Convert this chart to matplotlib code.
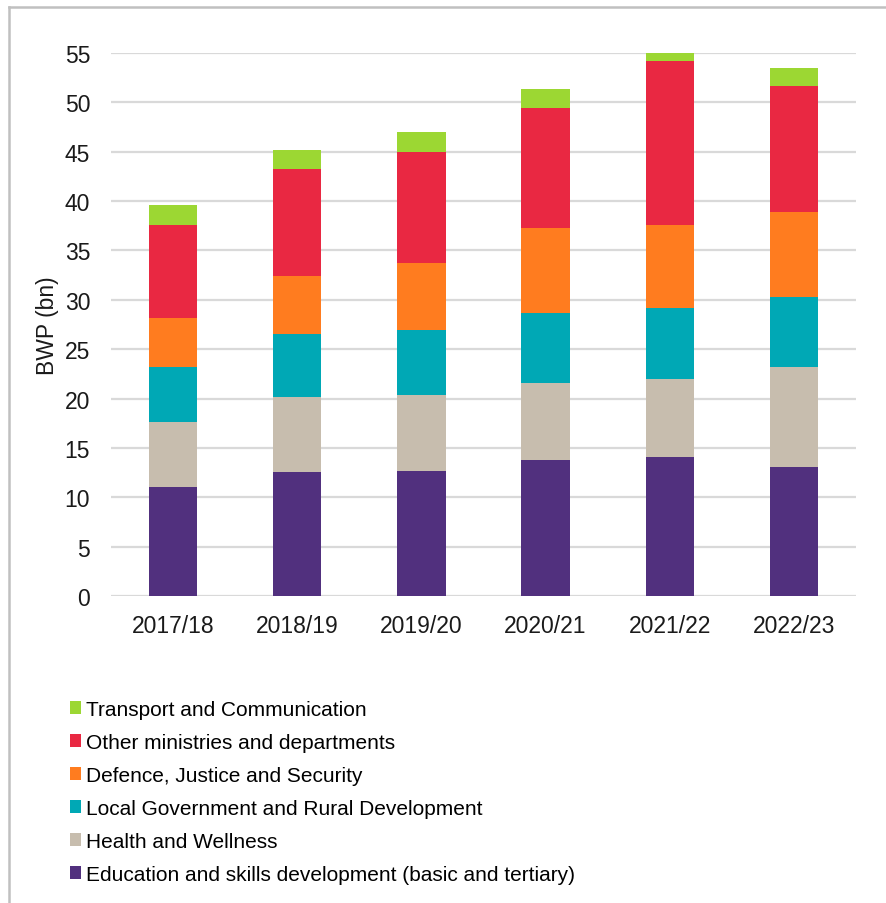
import matplotlib.pyplot as plt
from matplotlib.patches import Patch
from matplotlib.lines import Line2D
import numpy as np

plt.rcParams['font.family'] = ['Liberation Sans', 'DejaVu Sans']

years = ['2017/18', '2018/19', '2019/20', '2020/21', '2021/22', '2022/23']

# values in BWP bn, bottom to top
education = [11.0, 12.6, 12.7, 13.8, 14.1, 13.1]
health = [6.6, 7.6, 7.7, 7.8, 7.9, 10.1]
local_gov = [5.6, 6.3, 6.5, 7.1, 7.2, 7.1]
defence = [5.0, 5.9, 6.8, 8.6, 8.4, 8.6]
other = [9.4, 10.8, 11.3, 12.1, 16.6, 12.8]
transport = [2.0, 2.0, 2.0, 2.0, 0.9, 1.8]

series = [
    ('Education and skills development (basic and tertiary)', education, '#51307e'),
    ('Health and Wellness', health, '#c7bdae'),
    ('Local Government and Rural Development', local_gov, '#00a8b5'),
    ('Defence, Justice and Security', defence, '#ff7c1f'),
    ('Other ministries and departments', other, '#e92842'),
    ('Transport and Communication', transport, '#9cd733'),
]

fig = plt.figure(figsize=(8.87, 9.04), dpi=100)
ax = fig.add_axes([0.1251, 0.3396, 0.840, 0.6007])

x = np.arange(len(years))
bottom = np.zeros(len(years))
for name, vals, col in series:
    ax.bar(x, vals, 0.39, bottom=bottom, color=col, zorder=3)
    bottom += np.array(vals)

ax.set_xlim(-0.5, len(years) - 0.5)
ax.set_ylim(0, 55)
ax.set_yticks(range(0, 56, 5))
ax.set_xticks(x)
ax.set_xticklabels(years)
ax.tick_params(axis='both', length=0, labelsize=16.5, colors='#1a1a1a')
ax.tick_params(axis='y', pad=15)
ax.tick_params(axis='x', pad=13)
ax.yaxis.grid(True, color='#d9d9d9', linewidth=1.6, zorder=0)
ax.set_axisbelow(True)
for s in ax.spines.values():
    s.set_visible(False)
ax.set_ylabel('BWP (bn)', fontsize=16.5, color='#1a1a1a', labelpad=4)

# legend, top entry first
handles = [Patch(facecolor=col) for name, vals, col in reversed(series)]
labels = [name for name, vals, col in reversed(series)]
fig.legend(handles, labels, loc='upper left', bbox_to_anchor=(0.079, 0.2246),
           frameon=False, fontsize=15, handlelength=0.53, handleheight=0.53,
           handletextpad=0.25, labelspacing=0.67, borderpad=0, borderaxespad=0)

# grey frame on left and top
fig.add_artist(Line2D([0.0107, 0.0107], [0, 0.991], transform=fig.transFigure,
                      color='#c0c0c0', linewidth=1.8))
fig.add_artist(Line2D([0.0107, 1], [0.991, 0.991], transform=fig.transFigure,
                      color='#c0c0c0', linewidth=1.8))

fig.savefig('out.png', dpi=100)
